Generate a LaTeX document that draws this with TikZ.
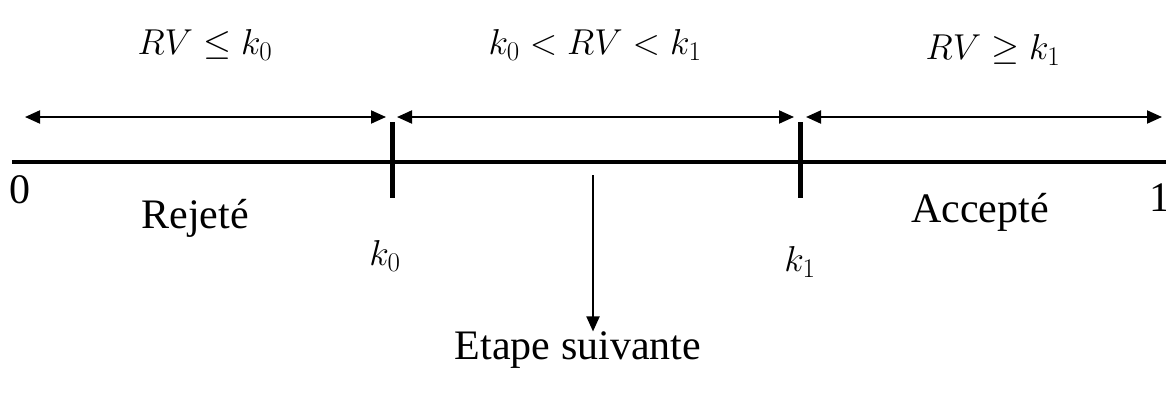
\RequirePackage{fix-cm}
\documentclass[tikz,border=0pt]{standalone}
\usepackage{fontspec}
\setmainfont{Liberation Serif}
\newcommand\bigsub[1]{_{\mbox{\fontsize{27}{30}\selectfont$#1$}}}
\usetikzlibrary{arrows.meta}
\begin{document}
\begin{tikzpicture}[x=1pt,y=-1pt,
  mainaxis/.style={line width=4pt},
  tickmark/.style={line width=5pt},
  spanarrow/.style={line width=2pt,{Triangle[length=15pt,width=13pt]}-{Triangle[length=15pt,width=13pt]}},
  downarrow/.style={line width=2pt,-{Triangle[length=15pt,width=13pt]}},
  lbl/.style={inner sep=0pt,font=\fontsize{42}{50}\selectfont},
  mlbl/.style={inner sep=0pt,font=\fontsize{36}{44}\selectfont}]
\useasboundingbox (0,0) rectangle (1166,407);
% axis
\coordinate (a0) at (12,162);
\coordinate (a1) at (1166,162);
\draw[mainaxis] (a0) -- (a1);
% ticks
\coordinate (t0top) at (392,122);
\coordinate (t0bot) at (392,198);
\coordinate (t1top) at (800,122);
\coordinate (t1bot) at (800,198);
\draw[tickmark] (t0top) -- (t0bot);
\draw[tickmark] (t1top) -- (t1bot);
% range arrows
\coordinate (r1a) at (25,117);
\coordinate (r1b) at (386,117);
\coordinate (r2a) at (397,117);
\coordinate (r2b) at (794,117);
\coordinate (r3a) at (806,117);
\coordinate (r3b) at (1162,117);
\draw[spanarrow] (r1a) -- (r1b);
\draw[spanarrow] (r2a) -- (r2b);
\draw[spanarrow] (r3a) -- (r3b);
% labels
\node[mlbl] (m1) at (205,45) {$RV\leq k\bigsub{0}$};
\node[mlbl] (m2) at (595,45) {$k\bigsub{0}<RV<k\bigsub{1}$};
\node[mlbl] (m3) at (993,50) {$RV\geq k\bigsub{1}$};
\node[lbl] (zero) at (20,190) {0};
\node[lbl] (one) at (1160,198) {1};
\node[lbl] (rej) at (195,218) {Rejeté};
\node[lbl] (acc) at (980,212) {Accepté};
\node[mlbl] (k0) at (385,256) {$k\bigsub{0}$};
\node[mlbl] (k1) at (800,262) {$k\bigsub{1}$};
\node[lbl] (etape) at (578,350) {Etape suivante};
\coordinate (dtop) at (593,175);
\draw[downarrow] (dtop) -- (etape.north -| dtop);
\end{tikzpicture}
\end{document}
